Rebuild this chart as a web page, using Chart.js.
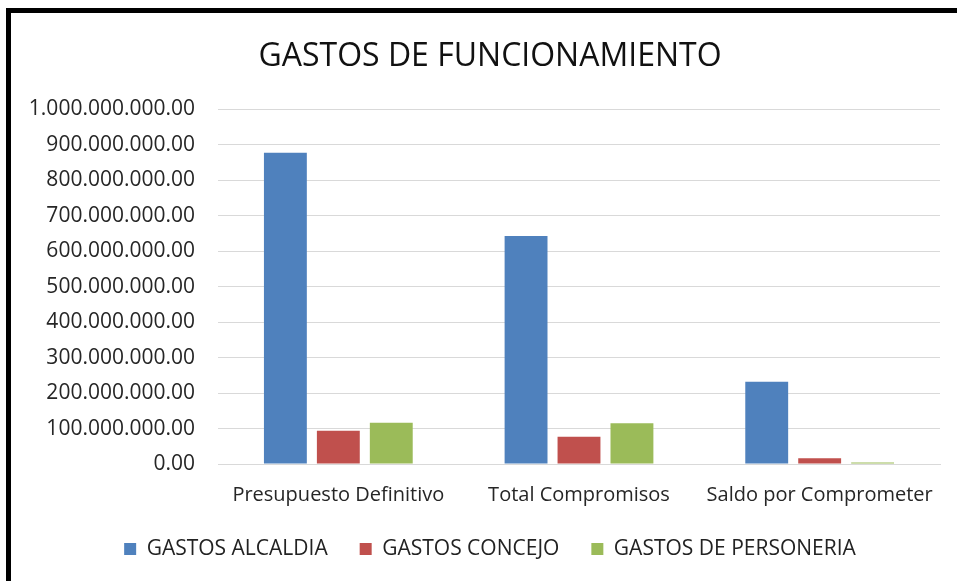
<!DOCTYPE html>
<html>
<head>
<meta charset="utf-8">
<script src="https://cdn.jsdelivr.net/npm/chart.js@4/dist/chart.umd.min.js"></script>
<style>
  html, body { margin: 0; padding: 0; background: #ffffff; width: 957px; height: 581px; overflow: hidden; }
  #wrap { position: absolute; left: 0; top: 0; width: 968px; height: 581px; }
  #frame { position: absolute; left: 6px; top: 8px; width: 1200px; height: 900px;
           border-left: 5px solid #000; border-top: 5px solid #000; pointer-events: none; z-index: 2; }
</style>
</head>
<body>
<div id="wrap"><canvas id="c" width="968" height="581"></canvas></div>
<div id="frame"></div>
<script>
const categories = ['Presupuesto Definitivo', 'Total Compromisos', 'Saldo por Comprometer'];
const seriesNames = ['GASTOS ALCALDIA', 'GASTOS CONCEJO', 'GASTOS DE PERSONERIA'];
const gastosAlcaldia = [878000000, 643000000, 232000000];
const gastosConcejo = [94000000, 77000000, 16000000];
const gastosPersoneria = [116000000, 115000000, 4500000];
const yTicks = [0, 100000000, 200000000, 300000000, 400000000, 500000000, 600000000, 700000000, 800000000, 900000000, 1000000000];
const colors = ['#4F81BD', '#C0504D', '#9BBB59'];

function fmt(v) {
  const s = Math.round(v).toString().replace(/\B(?=(\d{3})+(?!\d))/g, '.');
  return s + '.00';
}

const FONT = "'Open Sans', 'Liberation Sans', sans-serif";

new Chart(document.getElementById('c'), {
  type: 'bar',
  data: {
    labels: categories,
    datasets: [
      { label: seriesNames[0], data: gastosAlcaldia, backgroundColor: colors[0] },
      { label: seriesNames[1], data: gastosConcejo, backgroundColor: colors[1] },
      { label: seriesNames[2], data: gastosPersoneria, backgroundColor: colors[2] }
    ]
  },
  options: {
    responsive: false,
    animation: false,
    devicePixelRatio: 1,
    categoryPercentage: 0.66,
    barPercentage: 0.81,
    layout: { padding: { left: 12, right: 0, top: 0, bottom: 11.5 } },
    plugins: {
      title: {
        display: true,
        text: 'GASTOS DE FUNCIONAMIENTO',
        color: '#111',
        font: { family: FONT, size: 32, weight: 'normal' },
        padding: { top: 38, bottom: 33 }
      },
      legend: {
        position: 'bottom',
        labels: {
          boxWidth: 12, boxHeight: 12, padding: 32,
          color: '#222',
          font: { family: FONT, size: 21 }
        }
      },
      tooltip: { enabled: false }
    },
    scales: {
      x: {
        grid: { display: false, drawTicks: false },
        border: { display: true, color: '#d9d9d9' },
        ticks: { color: '#262626', padding: 19, font: { family: FONT, size: 20 } },
        afterFit: s => { s.height = 42.5; }
      },
      y: {
        min: 0, max: 1000000000,
        afterBuildTicks: s => { s.ticks = yTicks.map(v => ({ value: v })); },
        grid: { color: '#d9d9d9', lineWidth: 1, drawTicks: false },
        border: { display: false },
        ticks: { color: '#262626', padding: 23, font: { family: FONT, size: 21 }, callback: v => fmt(v) },
        afterFit: s => { s.width = 206; }
      },
      y2: {
        position: 'right',
        display: true,
        grid: { display: false, drawTicks: false },
        border: { display: false },
        ticks: { display: false },
        afterFit: s => { s.width = 28; }
      }
    }
  }
});
</script>
</body>
</html>
